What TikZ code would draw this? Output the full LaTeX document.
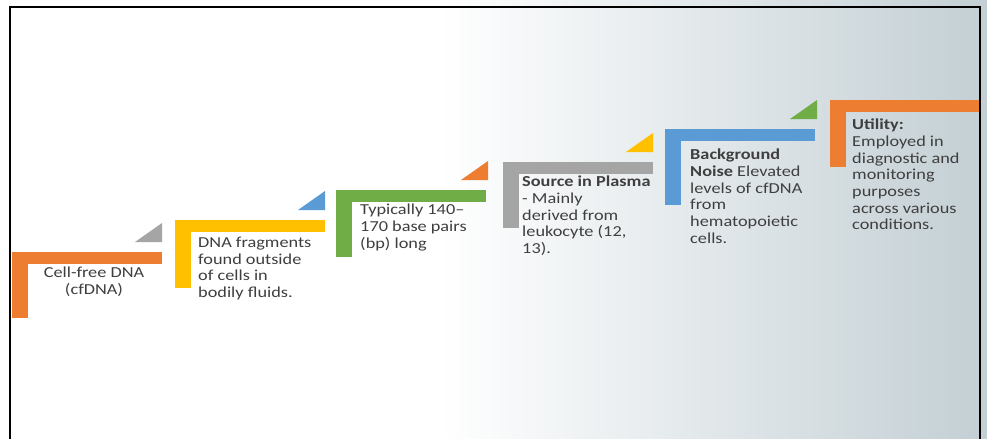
\documentclass[tikz,border=0pt]{standalone}
\usepackage{fontspec}
\setmainfont[FakeStretch=1.2]{Carlito}
\usepackage{xcolor}
\usepackage{tikz}

\definecolor{stepOrange}{HTML}{ED7D31}
\definecolor{stepGray}{HTML}{A5A5A5}
\definecolor{stepYellow}{HTML}{FFC000}
\definecolor{stepBlue}{HTML}{5B9BD5}
\definecolor{stepGreen}{HTML}{70AD47}
\definecolor{bgSteel}{HTML}{C3CFD4}
\definecolor{txtGray}{HTML}{3F3F3F}

\tikzset{
    steptext/.style={inner sep=0pt, text=txtGray, align=left, anchor=north west,
        font=\fontsize{13}{14.2}\selectfont},
}

\begin{document}
\begin{tikzpicture}[x=0.03cm, y=-0.03cm]
    \useasboundingbox (0,0) rectangle (987,438);
    % Background
    \fill[white] (0,0) rectangle (987,438);
    \shade[left color=white, right color=bgSteel] (440,0) rectangle (987,438);

    \foreach \x/\y/\col/\len in {12/252/stepOrange/66, 175/220/stepYellow/68,
        336/190/stepGreen/67, 503/162/stepGray/66, 665/129/stepBlue/76, 830/100/stepOrange/67} {
        % Top bar of the step
        \fill[\col] (\x,\y) rectangle ++(150,12);
        % Left bar of the step
        \fill[\col] (\x,\y) rectangle ++(16,\len);
    }
    \foreach \x/\y/\col in {162/252/stepGray, 325/220/stepBlue, 488/190/stepOrange,
        653/162/stepYellow, 817/129/stepGreen} {
        % Small wedge above the step end
        \fill[\col] (\x-27,\y-10) -- (\x,\y-10) -- (\x,\y-29) -- cycle;
    }

    % Frame
    \draw[line width=1.5pt] (10,440) -- (10,7) -- (980,7) -- (980,440);

    \node[steptext, anchor=north, align=center] (cfdna) at (94,267) {Cell-free DNA\\(cfDNA)};
    \node[steptext] (fragments) at (198,237) {DNA fragments\\found outside\\of cells in\\bodily fluids.};
    \node[steptext] (length) at (360,204) {Typically 140--\\170 base pairs\\(bp) long};
    \node[steptext] (source) at (522,176) {\textbf{Source in Plasma}\\- Mainly\\derived from\\leukocyte (12,\\13).};
    \node[steptext] (noise) at (690,149) {\textbf{Background}\\\textbf{Noise} Elevated\\levels of cfDNA\\from\\hematopoietic\\cells.};
    \node[steptext] (utility) at (852,119) {\textbf{Utility:}\\Employed in\\diagnostic and\\monitoring\\purposes\\across various\\conditions.};
\end{tikzpicture}
\end{document}
